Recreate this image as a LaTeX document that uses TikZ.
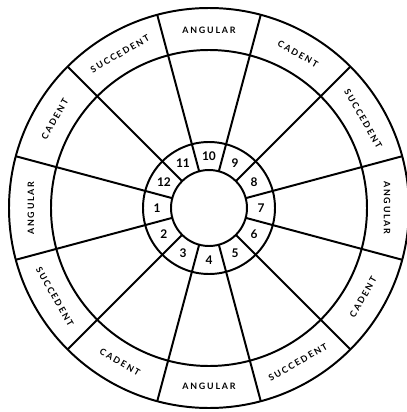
\documentclass[tikz,border=0pt]{standalone}
\usepackage{fontspec}
\setmainfont{Lato}
\usepackage{tikz}
\usetikzlibrary{calc}
\definecolor{ink}{RGB}{0,0,0}

\begin{document}
\begin{tikzpicture}[
				scale=0.025,
				ring/.style={draw=ink, line width=1.4pt},
				spoke/.style={draw=ink, line width=1.4pt},
				hlabel/.style={font=\fontsize{6.3}{7}\selectfont\bfseries\addfontfeature{LetterSpace=20}, inner sep=0pt},
				hnum/.style={font=\fontsize{8.5}{9}\selectfont\bfseries, inner sep=0pt}
				]
				
				\useasboundingbox (-209,-204) rectangle (197,208);
				
				% Circles
				\draw[ring] (0,0) circle (200);
				\draw[ring] (0,0) circle (158);
				\draw[ring] (0,0) circle (66);
				\draw[ring] (0,0) circle (38);
				
				% Spokes
				\foreach \a in {15,45,...,345}
				\draw[spoke] (\a:38) -- (\a:200);
				
				% House numbers
				\foreach \n in {1,...,12}
				\node[hnum] (h\n) at ({150+30*\n}:52) {\n};
				
				% Ring labels
				\foreach \n/\a/\r/\txt in {1/180/90/ANGULAR, 2/210/-60/SUCCEDENT, 3/240/-30/CADENT,
					4/270/0/ANGULAR, 5/300/30/SUCCEDENT, 6/330/60/CADENT,
					7/0/-90/ANGULAR, 8/30/-60/SUCCEDENT, 9/60/-30/CADENT,
					10/90/0/ANGULAR, 11/120/30/SUCCEDENT, 12/150/60/CADENT}
				\node[hlabel, rotate=\r] (l\n) at (\a:178) {\txt};
				
			\end{tikzpicture}
\end{document}
